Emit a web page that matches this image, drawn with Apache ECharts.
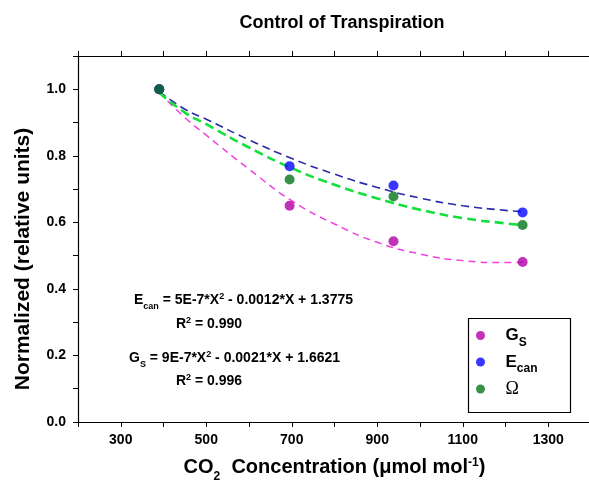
<!DOCTYPE html>
<html>
<head>
<meta charset="utf-8">
<script src="https://cdn.jsdelivr.net/npm/echarts@6/dist/echarts.min.js"></script>
<style>
html,body{margin:0;padding:0;background:#fff;}
#chart{width:589px;height:495px;}
</style>
</head>
<body>
<div id="chart"></div>
<script>
// Measured points
const co2Points = [390, 695, 938, 1240];
const gsValues = [1.0, 0.650, 0.543, 0.481];
const ecanValues = [1.0, 0.769, 0.711, 0.630];
const omegaValues = [1.0, 0.729, 0.678, 0.592];

// Trend curves
const curveX = [390, 450, 500, 600, 700, 800, 900, 1000, 1100, 1200, 1240];
const gsCurve = [0.990, 0.915, 0.862, 0.760, 0.665, 0.595, 0.540, 0.505, 0.485, 0.479, 0.480];
const ecanCurve = [0.993, 0.940, 0.910, 0.848, 0.792, 0.745, 0.705, 0.673, 0.650, 0.636, 0.632];
const omegaCurve = [0.990, 0.930, 0.895, 0.825, 0.763, 0.713, 0.672, 0.638, 0.613, 0.597, 0.592];

// Axis settings
const xMin = 200, xMax = 1400, xStep = 100;
const yMin = 0, yMax = 1.1, yStep = 0.1;

const FONT = 'Liberation Sans, Arial, sans-serif';
const pair = (xs, ys) => xs.map((x, i) => [x, ys[i]]);

const chart = echarts.init(document.getElementById('chart'), null, {renderer: 'canvas'});

const axisCommon = {
  axisLine: {show: true, onZero: false, lineStyle: {color: '#000', width: 1.2}},
  axisTick: {show: true, inside: false, length: 5, lineStyle: {color: '#000', width: 1}},
  splitLine: {show: false}
};

const option = {
  backgroundColor: '#fff',
  animation: false,
  title: {
    text: 'Control of Transpiration',
    left: 337, top: 9, textAlign: 'center',
    textStyle: {fontFamily: FONT, fontSize: 18, fontWeight: 'bold', color: '#000'}
  },
  grid: {left: 78, right: -2, top: 56, bottom: 73, containLabel: false, outerBoundsMode: 'none'},
  xAxis: [
    Object.assign({}, axisCommon, {
      type: 'value', min: xMin, max: xMax, interval: xStep, position: 'bottom',
      axisLabel: {
        margin: 11, color: '#000', fontFamily: FONT, fontSize: 14, fontWeight: 'bold',
        formatter: v => (Math.round(v) % 200 === 100 ? String(v) : '')
      },
      name: '{b|CO}{sub|2}{b|  Concentration (μmol mol}{sup|-1}{b|)}',
      nameLocation: 'middle', nameGap: 33,
      nameTextStyle: {
        color: '#000',
        rich: {
          b: {fontFamily: FONT, fontSize: 20, fontWeight: 'bold', color: '#000', lineHeight: 24},
          sub: {fontFamily: FONT, fontSize: 12, fontWeight: 'bold', color: '#000', lineHeight: 24, verticalAlign: 'bottom', padding: [0, 0, -4, 0]},
          sup: {fontFamily: FONT, fontSize: 12, fontWeight: 'bold', color: '#000', lineHeight: 24, verticalAlign: 'top', padding: [2, 0, 0, 0]}
        }
      }
    }),
    Object.assign({}, axisCommon, {
      type: 'value', min: xMin, max: xMax, interval: xStep, position: 'top',
      axisLabel: {show: false}
    })
  ],
  yAxis: [
    Object.assign({}, axisCommon, {
      type: 'value', min: yMin, max: yMax, interval: yStep, position: 'left',
      axisLabel: {
        margin: 12, color: '#000', fontFamily: FONT, fontSize: 14, fontWeight: 'bold',
        formatter: v => {
          const k = Math.round(v * 10);
          return k % 2 === 0 ? (k / 10).toFixed(1) : '';
        }
      },
      name: 'Normalized (relative units)',
      nameLocation: 'middle', nameGap: 44,
      nameTextStyle: {fontFamily: FONT, fontSize: 21, fontWeight: 'bold', color: '#000', padding: [0, 40, 0, 0]}
    }),
    Object.assign({}, axisCommon, {
      type: 'value', min: yMin, max: yMax, interval: yStep, position: 'right',
      axisLabel: {show: false}
    })
  ],
  legend: {
    orient: 'vertical',
    left: 476, top: 327,
    itemWidth: 40, itemHeight: 9, itemGap: 5,
    icon: 'circle',
    padding: 0,
    data: ['Gs', 'Ecan', 'Ω'],
    formatter: n => n === 'Gs' ? '{b|G}{sub|S}' : (n === 'Ecan' ? '{b|E}{sub|can}' : '{o|Ω}'),
    textStyle: {
      rich: {
        b: {fontFamily: FONT, fontSize: 17, fontWeight: 'bold', color: '#000', lineHeight: 20},
        sub: {fontFamily: FONT, fontSize: 12, fontWeight: 'bold', color: '#000', lineHeight: 20, verticalAlign: 'bottom', padding: [0, 0, -3, 0]},
        o: {fontFamily: 'Liberation Serif, serif', fontSize: 18, color: '#000', lineHeight: 20}
      }
    }
  },
  graphic: [
    {type: 'rect', left: 466, top: 316, z: 0,
     shape: {width: 102, height: 94},
     style: {fill: 'none', stroke: '#000', lineWidth: 1.2}},
    {type: 'text', left: 134, top: 291,
     style: {
       text: '{b|E}{sub|can}{b| = 5E-7*X}{sup|2}{b| - 0.0012*X + 1.3775}',
       rich: {
         b: {fontFamily: FONT, fontSize: 14, fontWeight: 'bold', fill: '#000', lineHeight: 18},
         sub: {fontFamily: FONT, fontSize: 9, fontWeight: 'bold', fill: '#000', lineHeight: 18, verticalAlign: 'bottom', padding: [0, 0, -2, 0]},
         sup: {fontFamily: FONT, fontSize: 9, fontWeight: 'bold', fill: '#000', lineHeight: 18, verticalAlign: 'top', padding: [1, 0, 0, 0]}
       }
     }},
    {type: 'text', left: 176, top: 315,
     style: {
       text: '{b|R}{sup|2}{b| = 0.990}',
       rich: {
         b: {fontFamily: FONT, fontSize: 14, fontWeight: 'bold', fill: '#000', lineHeight: 18},
         sup: {fontFamily: FONT, fontSize: 9, fontWeight: 'bold', fill: '#000', lineHeight: 18, verticalAlign: 'top', padding: [1, 0, 0, 0]}
       }
     }},
    {type: 'text', left: 129, top: 349,
     style: {
       text: '{b|G}{sub|S}{b| = 9E-7*X}{sup|2}{b| - 0.0021*X + 1.6621}',
       rich: {
         b: {fontFamily: FONT, fontSize: 14, fontWeight: 'bold', fill: '#000', lineHeight: 18},
         sub: {fontFamily: FONT, fontSize: 9, fontWeight: 'bold', fill: '#000', lineHeight: 18, verticalAlign: 'bottom', padding: [0, 0, -2, 0]},
         sup: {fontFamily: FONT, fontSize: 9, fontWeight: 'bold', fill: '#000', lineHeight: 18, verticalAlign: 'top', padding: [1, 0, 0, 0]}
       }
     }},
    {type: 'text', left: 176, top: 372,
     style: {
       text: '{b|R}{sup|2}{b| = 0.996}',
       rich: {
         b: {fontFamily: FONT, fontSize: 14, fontWeight: 'bold', fill: '#000', lineHeight: 18},
         sup: {fontFamily: FONT, fontSize: 9, fontWeight: 'bold', fill: '#000', lineHeight: 18, verticalAlign: 'top', padding: [1, 0, 0, 0]}
       }
     }}
  ],
  series: [
    {name: 'Gs fit', type: 'line', data: pair(curveX, gsCurve), smooth: true, showSymbol: false, z: 2,
     lineStyle: {color: '#f040e0', width: 1.5, type: [7, 5]}},
    {name: 'Ecan fit', type: 'line', data: pair(curveX, ecanCurve), smooth: true, showSymbol: false, z: 2,
     lineStyle: {color: '#2a2aa8', width: 1.6, type: [8, 5]}},
    {name: 'Ω fit', type: 'line', data: pair(curveX, omegaCurve), smooth: true, showSymbol: false, z: 2,
     lineStyle: {color: '#14e03c', width: 2.6, type: [9, 5]}},
    {name: 'Gs', type: 'scatter', data: pair(co2Points, gsValues), symbol: 'circle', symbolSize: 10, z: 5,
     itemStyle: {color: '#b000a8'}},
    {name: 'Ecan', type: 'scatter', data: pair(co2Points, ecanValues), symbol: 'circle', symbolSize: 10, z: 5,
     itemStyle: {color: '#0505ff'}},
    {name: 'Ω', type: 'scatter', data: pair(co2Points, omegaValues), symbol: 'circle', symbolSize: 10, z: 5,
     itemStyle: {color: '#06761a'}}
  ]
};
chart.setOption(option);
</script>
</body>
</html>
